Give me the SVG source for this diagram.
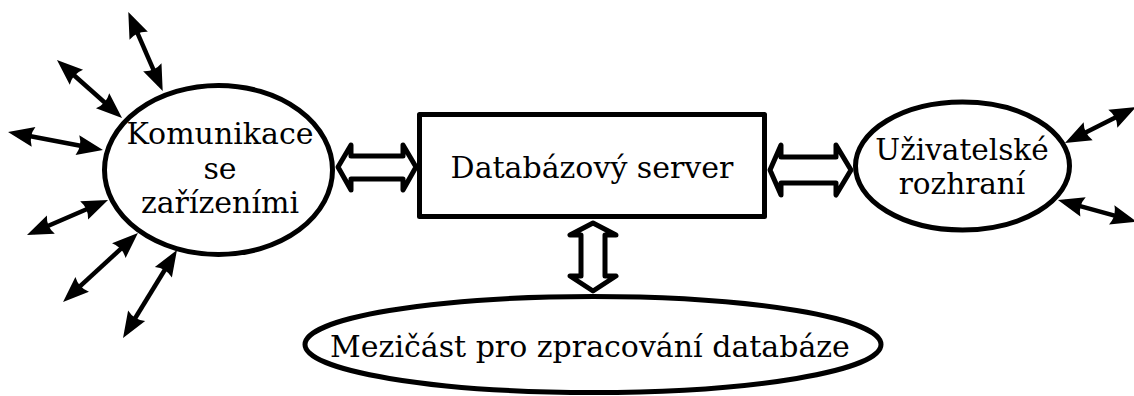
<svg xmlns="http://www.w3.org/2000/svg" width="1134" height="396" viewBox="0 0 1134 396">
  <style>
    .shape { fill: #ffffff; stroke: #000000; stroke-width: 5; stroke-linejoin: round; }
    .label { font-family: "DejaVu Serif", "Liberation Serif", serif; font-size: 30px; fill: #000000; text-anchor: middle; }
    .small { font-size: 29.5px; }
    .thin { fill: none; stroke: #000000; stroke-width: 4.5; marker-start: url(#head); marker-end: url(#head); }
    .big { fill: #ffffff; stroke: #000000; stroke-width: 5; stroke-linejoin: round; }
  </style>
  <defs>
    <marker id="head" markerUnits="userSpaceOnUse" markerWidth="32" markerHeight="24" viewBox="-2 -12 32 24" refX="19" refY="0" orient="auto-start-reverse">
      <path d="M0,-10 L26,0 L0,10 Q5,0 0,-10 Z" fill="#000000"/>
    </marker>
  </defs>

  <g id="connectors">
    <line class="thin" x1="131.1" y1="18.4" x2="159.9" y2="84.6"/>
    <line class="thin" x1="62.2" y1="64.7" x2="116.8" y2="113.3"/>
    <line class="thin" x1="14.9" y1="133.3" x2="96.1" y2="148.7"/>
    <line class="thin" x1="33.4" y1="232.2" x2="101.6" y2="202.8"/>
    <line class="thin" x1="68.2" y1="297.2" x2="132.8" y2="237.8"/>
    <line class="thin" x1="126.7" y1="332" x2="173.3" y2="256"/>
    <line class="thin" x1="1071.2" y1="139.8" x2="1129.8" y2="110.2"/>
    <line class="thin" x1="1064.7" y1="201.8" x2="1130" y2="219.9"/>
    <polygon class="big" points="338,167 351,145 351,156 403,156 403,145 416,167 403,190 403,179 351,179 351,190"/>
    <polygon class="big" points="770,170 781,145 781,157 836,157 836,145 851,170 836,195 836,183 781,183 781,195"/>
    <polygon class="big" points="593,223 570,235 581,235 581,276 570,276 593,291 616,276 605,276 605,235 616,235"/>
  </g>

  <g id="node-komunikace">
    <ellipse class="shape" cx="218.5" cy="170" rx="114" ry="84.5"/>
    <text class="label" x="220" y="144">Komunikace</text>
    <text class="label" x="220" y="179">se</text>
    <text class="label" x="220" y="213">zařízeními</text>
  </g>

  <g id="node-server">
    <rect class="shape" x="419.5" y="114.5" width="345" height="102"/>
    <text class="label" x="592" y="178">Databázový server</text>
  </g>

  <g id="node-rozhrani">
    <ellipse class="shape" cx="962.5" cy="166" rx="107" ry="64"/>
    <text class="label small" x="962" y="160">Uživatelské</text>
    <text class="label small" x="962" y="194">rozhraní</text>
  </g>

  <g id="node-mezicast">
    <ellipse class="shape" cx="593" cy="344.5" rx="288" ry="48"/>
    <text class="label" x="590" y="357">Mezičást pro zpracování databáze</text>
  </g>
</svg>
